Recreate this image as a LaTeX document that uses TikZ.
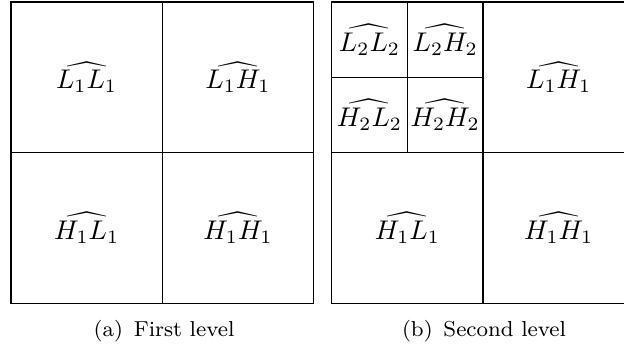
\documentclass[tikz,border=0pt]{standalone}
\begin{document}
\begin{tikzpicture}[x=0.37pt,y=-0.37pt,
  grid/.style={draw=black,line width=0.5pt},
  lab/.style={inner sep=0pt,font=\normalsize},
  captext/.style={inner sep=0pt,font=\footnotesize}]
\useasboundingbox (0,0) rectangle (624,349);
\clip (0,0) rectangle (624,349);
% left square
\draw[grid] (11,2) rectangle (313.7,303.7);
\draw[grid] (162.3,2) -- (162.3,303.7);
\draw[grid] (11,152.8) -- (313.7,152.8);
\node[lab] (a11) at (86.6,77.4) {$\widehat{L_1L_1}$};
\node[lab] (a12) at (238,77.4) {$\widehat{L_1H_1}$};
\node[lab] (a21) at (86.6,228.2) {$\widehat{H_1L_1}$};
\node[lab] (a22) at (238,228.2) {$\widehat{H_1H_1}$};
\node[captext] (capa) at (164,331) {(a)\enspace First level};
% right square
\draw[grid] (331.7,2) rectangle (634.4,303.7);
\draw[grid] (483,2) -- (483,303.7);
\draw[grid] (331.7,152.8) -- (634.4,152.8);
\draw[grid] (407.4,2) -- (407.4,152.8);
\draw[grid] (331.7,77.4) -- (483,77.4);
\node[lab] (b11) at (369.5,39.7) {$\widehat{L_2L_2}$};
\node[lab] (b12) at (445.2,39.7) {$\widehat{L_2H_2}$};
\node[lab] (b21) at (369.5,115.1) {$\widehat{H_2L_2}$};
\node[lab] (b22) at (445.2,115.1) {$\widehat{H_2H_2}$};
\node[lab] (b2) at (558.7,77.4) {$\widehat{L_1H_1}$};
\node[lab] (b3) at (407.4,228.2) {$\widehat{H_1L_1}$};
\node[lab] (b4) at (558.7,228.2) {$\widehat{H_1H_1}$};
\node[captext] (capb) at (484,331) {(b)\enspace Second level};
\end{tikzpicture}
\end{document}
